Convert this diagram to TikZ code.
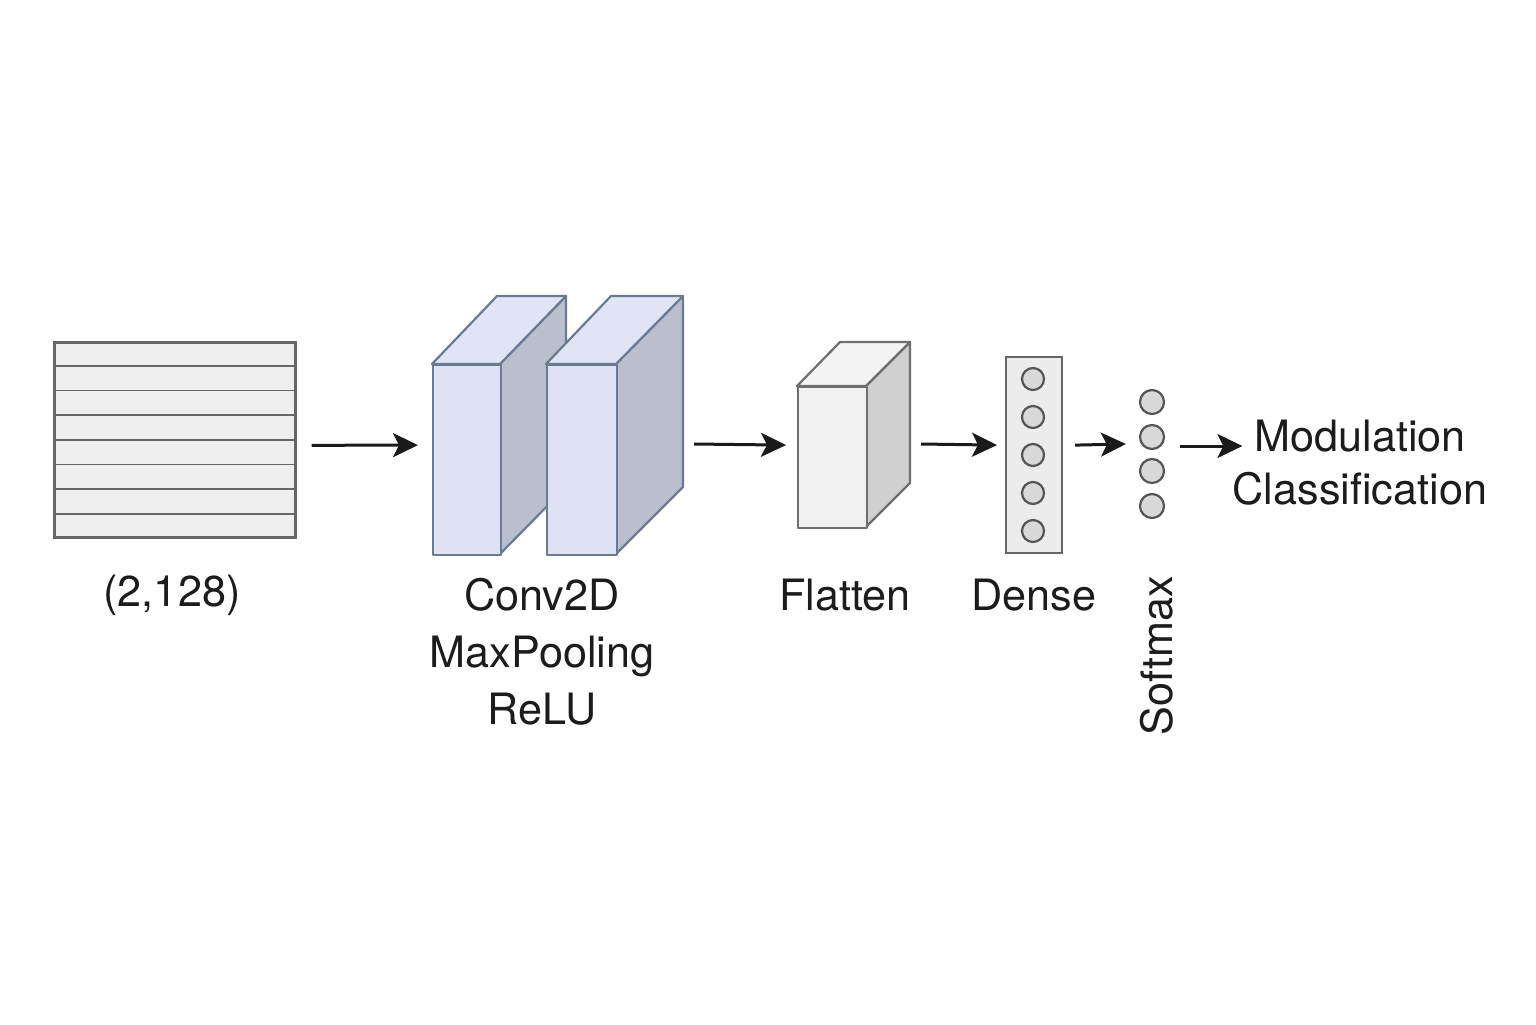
\documentclass[tikz,border=0pt]{standalone}
\usepackage{fontspec}
\setsansfont{TeX Gyre Heros}
\usetikzlibrary{arrows.meta,calc}
\definecolor{gridfill}{HTML}{EFEFEF}
\definecolor{gridline}{HTML}{666666}
\definecolor{convfront}{HTML}{DDE3F3}
\definecolor{convtop}{HTML}{DFE5F4}
\definecolor{convside}{HTML}{B9BFCC}
\definecolor{convline}{HTML}{6B7A93}
\definecolor{flfront}{HTML}{F1F1F1}
\definecolor{fltop}{HTML}{F3F3F3}
\definecolor{flside}{HTML}{D0D0D0}
\definecolor{flline}{HTML}{6E6E6E}
\definecolor{densefill}{HTML}{ECECEC}
\definecolor{neufill}{HTML}{D8D8D8}
\definecolor{neuline}{HTML}{555555}
\definecolor{txt}{HTML}{1C1C1C}
\definecolor{arrcol}{HTML}{1A1A1A}
\tikzset{
  gridbox/.style={draw=gridline, fill=gridfill, line width=1.3pt, inner sep=0pt, anchor=north west},
  gridrow/.style={draw=gridline, line width=0.9pt},
  convface/.style={draw=convline, line width=1.1pt, line join=round},
  flface/.style={draw=flline, line width=1.1pt, line join=round},
  densebox/.style={draw=gridline, fill=densefill, line width=1.1pt, inner sep=0pt, anchor=north west},
  neuron/.style={circle, draw=neuline, fill=neufill, line width=1.1pt, inner sep=0pt},
  arr/.style={draw=arrcol, line width=1.5pt, -{Stealth[length=12.5pt,width=12pt,inset=3pt]}},
  lbl/.style={text=txt, inner sep=0pt}
}
\begin{document}
\begin{tikzpicture}[x=0.5pt,y=-0.5pt, font=\sffamily\fontsize{21.6}{25}\selectfont]
\useasboundingbox[fill=white] (0,0) rectangle (1536,1024);

% input grid
\node[gridbox, minimum width=120.5pt, minimum height=97.5pt] (in) at (53,341) {};
\foreach \i in {1,...,7}{
  \draw[gridrow] ($(in.north west)!\i/8!(in.south west)$) -- ($(in.north east)!\i/8!(in.south east)$);
}

% conv block 1
\draw[convface, fill=convside] (500,364) -- (566,296) -- (566,487) -- (500,554) -- cycle;
\draw[convface, fill=convtop] (432,364) -- (497,296) -- (566,296) -- (500,364) -- cycle;
\node[convface, fill=convfront, minimum width=34pt, minimum height=95pt, inner sep=0pt, anchor=north west] (c1) at (432,364) {};
% conv block 2
\draw[convface, fill=convside] (616,364) -- (683,296) -- (683,487) -- (616,554) -- cycle;
\draw[convface, fill=convtop] (546,364) -- (611,296) -- (683,296) -- (616,364) -- cycle;
\node[convface, fill=convfront, minimum width=35pt, minimum height=95pt, inner sep=0pt, anchor=north west] (c2) at (546,364) {};
\coordinate (c2r) at (683,444);

% flatten block
\draw[flface, fill=flside] (866,386) -- (910,342) -- (910,483) -- (866,527) -- cycle;
\draw[flface, fill=fltop] (797,386) -- (840,342) -- (910,342) -- (866,386) -- cycle;
\node[flface, fill=flfront, minimum width=34.5pt, minimum height=70.5pt, inner sep=0pt, anchor=north west] (fl) at (797,386) {};
\coordinate (flr) at (910,444);

% dense
\node[densebox, minimum width=28pt, minimum height=98pt] (dense) at (1005,356) {};
\foreach \i in {0,...,4}{
  \node[neuron, minimum size=11pt] (d\i) at (1033,379+38*\i) {};
}

% softmax neurons
\node[neuron, minimum size=12pt] (s0) at (1152,402) {};
\node[neuron, minimum size=12pt] (s1) at (1152,437) {};
\node[neuron, minimum size=12pt] (s2) at (1152,471) {};
\node[neuron, minimum size=12pt] (s3) at (1152,506) {};

% labels
\node[lbl] (lin) at (172,595) {(2,128)};
\node[lbl, align=center, font=\sffamily\fontsize{21.6}{28.5}\selectfont] (lconv) at (542,652) {Conv2D\\MaxPooling\\ReLU};
\node[lbl] (lfl) at (845,595) {Flatten};
\node[lbl] (ldense) at (1034,595) {Dense};
\node[lbl, rotate=90] (lsoft) at (1157,656) {Softmax};
\node[lbl, align=center, font=\sffamily\fontsize{21.6}{26.5}\selectfont] (out) at (1360,463) {Modulation\\Classification};

% arrows
\draw[arr] ($(in.east)+(15,5.5)$) -- ($(c1.west)+(-14,-15)$);
\draw[arr] ($(c2r)+(11,0)$) -- ($(fl.west)+(-11,-12.5)$);
\draw[arr] ($(flr)+(11,0)$) -- ($(dense.west)+(-8,-10)$);
\draw[arr] ($(dense.east)+(12,-10)$) -- ($(s1.west)+(-13,7)$);
\draw[arr] ($(s1.east)+(15,9)$) -- ($(out.west)+(10,-17)$);
\end{tikzpicture}
\end{document}
